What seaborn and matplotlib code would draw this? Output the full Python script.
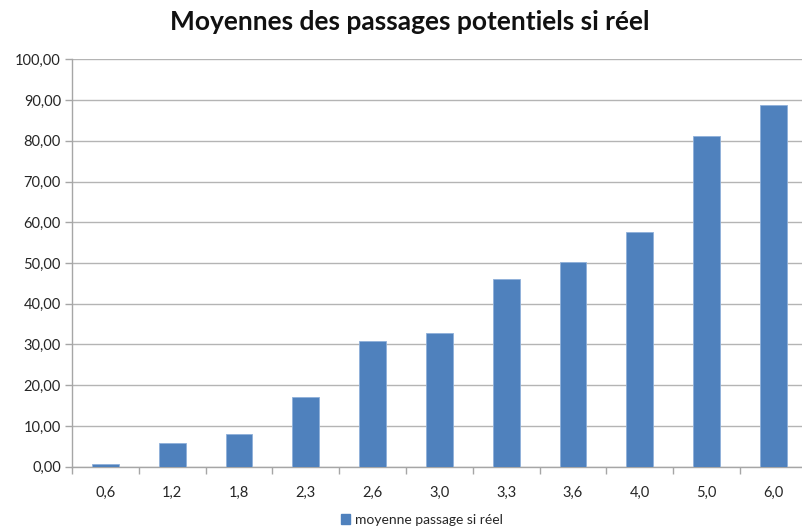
import matplotlib
matplotlib.use("Agg")
import matplotlib.pyplot as plt
import seaborn as sns
import pandas as pd
import numpy as np
from matplotlib.ticker import FuncFormatter, FixedLocator
from matplotlib.patches import Patch

categories = ["0,6", "1,2", "1,8", "2,3", "2,6", "3,0", "3,3", "3,6", "4,0", "5,0", "6,0"]
values = [0.75, 5.9, 8.0, 17.2, 30.8, 32.7, 46.1, 50.2, 57.5, 81.1, 88.7]
series_name = "moyenne passage si réel"
title = "Moyennes des passages potentiels si réel"

sns.set_theme(style="white")
plt.rcParams["font.family"] = ["Lato", "DejaVu Sans"]

df = pd.DataFrame({"cat": categories, "val": values})

fig = plt.figure(figsize=(8.03, 5.29), dpi=100)
ax = fig.add_axes([0.0897, 0.1178, 0.915, 0.7701])

bar_color = "#4F81BD"
sns.barplot(data=df, x="cat", y="val", color=bar_color, width=0.4,
            saturation=1, ax=ax, zorder=3,
            edgecolor="#8FB0DA", linewidth=0.6)

ax.set_ylim(0, 100)
ax.set_xlim(-0.5, len(categories) - 0.5)
ax.set_yticks(np.arange(0, 101, 10))
ax.yaxis.set_major_formatter(FuncFormatter(lambda v, p: f"{v:.2f}".replace(".", ",")))
ax.grid(axis="y", color="#B4B4B4", linewidth=1.0, zorder=0)
ax.set_axisbelow(True)

for s in ["top", "right"]:
    ax.spines[s].set_visible(False)
for s in ["left", "bottom"]:
    ax.spines[s].set_color("#A6A6A6")
    ax.spines[s].set_linewidth(1.0)

ax.tick_params(axis="y", which="major", length=5, color="#A6A6A6", width=1.0,
               labelsize=10.5, labelcolor="#262626", left=True, pad=3)
ax.tick_params(axis="x", which="major", length=0, labelsize=10.5,
               labelcolor="#262626", pad=14)
ax.xaxis.set_minor_locator(FixedLocator(np.arange(-0.5, len(categories), 1.0)))
ax.tick_params(axis="x", which="minor", length=5, color="#A6A6A6", width=1.0,
               bottom=True)

ax.set_xlabel("")
ax.set_ylabel("")

fig.suptitle(title, x=0.51, y=0.982, fontsize=19, fontweight="bold", color="#111111")

handle = Patch(facecolor=bar_color, edgecolor=bar_color)
fig.legend([handle], [series_name], loc="lower center", bbox_to_anchor=(0.525, -0.018),
           frameon=False, fontsize=10, handlelength=0.7, handleheight=0.7,
           handletextpad=0.3, labelcolor="#262626")

fig.savefig("out.png", dpi=100, facecolor="white")
